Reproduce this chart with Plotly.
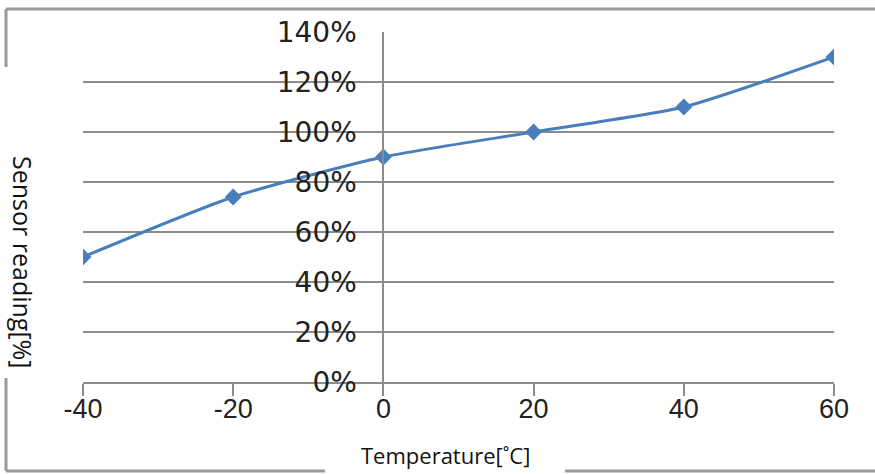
import plotly.graph_objects as go

# Sensor reading versus ambient temperature
temperature_c = [-40, -20, 0, 20, 40, 60]
sensor_reading = [0.50, 0.74, 0.90, 1.00, 1.10, 1.30]

x_ticks = [-40, -20, 0, 20, 40, 60]
x_tick_labels = ["-40", "-20", "0", "20", "40", "60"]
y_ticks = [0, 0.2, 0.4, 0.6, 0.8, 1.0, 1.2, 1.4]
y_tick_labels = ["0%", "20%", "40%", "60%", "80%", "100%", "120%", "140%"]

GRID = "#8c8c8c"
BLUE = "#4a7ebb"

W, H = 875, 474
ML, MR, MT, MB = 83, 41, 32, 92

fig = go.Figure()
fig.add_trace(go.Scatter(
    x=temperature_c, y=sensor_reading,
    mode="lines+markers",
    line=dict(color=BLUE, width=3, shape="spline", smoothing=0.6),
    marker=dict(symbol="diamond", size=13, color=BLUE),
    showlegend=False,
    hoverinfo="skip",
))

x_min, x_max = -40, 60
fig.update_layout(
    width=W, height=H,
    margin=dict(l=ML, r=MR, t=MT, b=MB),
    paper_bgcolor="white", plot_bgcolor="white",
    xaxis=dict(
        range=[x_min, x_max], tickvals=x_ticks, ticktext=x_tick_labels,
        showgrid=False, zeroline=False,
        showline=True, linecolor=GRID, linewidth=2,
        ticks="outside", ticklen=12, tickwidth=2, tickcolor=GRID,
        tickfont=dict(family="Liberation Sans", size=27, color="#222"),
        ticklabelstandoff=-10,
    ),
    yaxis=dict(
        range=[0, 1.4], tickvals=y_ticks, ticktext=y_tick_labels,
        anchor="free", position=(0 - x_min) / (x_max - x_min),
        showgrid=True, gridcolor=GRID, gridwidth=2,
        zeroline=False,
        showline=True, linecolor=GRID, linewidth=2,
        ticks="", ticklabelstandoff=20,
        tickfont=dict(family="DejaVu Sans", size=28, color="#222"),
    ),
)


def px(xp):
    return (xp - ML) / (W - ML - MR)


def py(yp):
    return 1 - (yp - MT) / (H - MT - MB)


# Y-axis title reading top to bottom
fig.add_annotation(
    text="Sensor reading[%]", xref="paper", yref="paper",
    x=px(23), y=py(262),
    textangle=90, showarrow=False, xanchor="center", yanchor="middle",
    font=dict(family="Open Sans", size=25, color="#111"),
)

# X-axis title sitting on the lower edge of the frame
fig.add_annotation(
    text="Temperature[˚C]", xref="paper", yref="paper",
    x=px(445), y=py(455),
    showarrow=False, xanchor="center", yanchor="middle",
    font=dict(family="Open Sans", size=22, color="#111"),
)

# Outer chart frame
frame_segments = [
    (6, 9, 875, 9),
    (6, 9, 6, 67),
    (6, 378, 6, 471),
    (6, 471, 325, 471),
    (565, 471, 875, 471),
]
for x0, y0, x1, y1 in frame_segments:
    fig.add_shape(type="line", xref="paper", yref="paper",
                  x0=px(x0), y0=py(y0), x1=px(x1), y1=py(y1),
                  line=dict(color="#9a9a9a", width=3))

fig.write_html("out.html")
